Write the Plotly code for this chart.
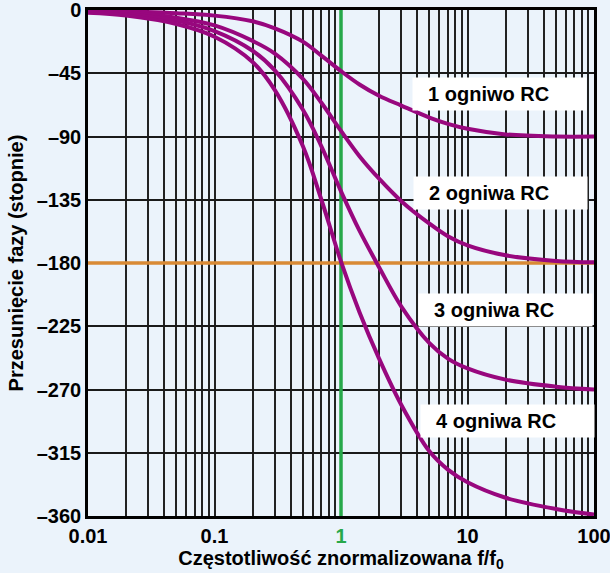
import plotly.graph_objects as go

# ---- data ----
freq = [0.01, 0.02, 0.05, 0.1, 0.2, 0.3, 0.5, 0.7, 1.0, 1.4, 2.0, 3.0, 5.0, 7.0, 10, 20, 50, 100]
phase1 = [-0.5, -1, -2.3, -4, -8, -13, -22.5, -32.5, -43.5, -53, -61, -68, -76.5, -81, -84.5, -88.5, -90, -90]
phase2 = [-1, -2, -5.5, -11, -22, -31, -49, -66, -86, -104, -120, -136, -152, -161, -167.5, -174.5, -178.5, -179.5]
phase3 = [-1.5, -3, -7.5, -15, -29, -43, -71, -97, -129, -157, -183, -211, -237, -248, -255, -263, -268, -270]
phase4 = [-2, -4, -10, -19, -37, -57, -97, -135, -179, -215, -248, -281, -314, -327, -336, -347, -355, -359]

curve_labels = ["1 ogniwo RC", "2 ogniwa RC", "3 ogniwa RC", "4 ogniwa RC"]

ref_phase = -180
ref_freq = 1

y_ticks = [0, -45, -90, -135, -180, -225, -270, -315, -360]
y_ticktext = ["0", "–45", "–90", "–135", "–180", "–225", "–270", "–315", "–360"]
decades = [0.01, 0.1, 1, 10, 100]
decade_text = ["0.01", "0.1", "<span style='color:#27a84a'>1</span>", "10", "100"]

# ---- styles ----
BG = "#ebf3fb"
PURPLE = "#98077e"
ORANGE = "#d98a35"
GREEN = "#27a84a"
FONT = "Liberation Sans, Arial, sans-serif"

x_tickvals, x_ticktext = [], []
for d, t in zip(decades, decade_text):
    x_tickvals.append(d)
    x_ticktext.append(t)
    if d < 100:
        for m in range(2, 10):
            x_tickvals.append(d * m)
            x_ticktext.append("")

fig = go.Figure()

fig.add_trace(go.Scatter(x=[decades[0], decades[-1]], y=[ref_phase, ref_phase], mode="lines",
                         line=dict(color=ORANGE, width=3.5), hoverinfo="skip", showlegend=False))
fig.add_trace(go.Scatter(x=[ref_freq, ref_freq], y=[y_ticks[0], y_ticks[-1]], mode="lines",
                         line=dict(color=GREEN, width=3.5), hoverinfo="skip", showlegend=False))

for py in [phase1, phase2, phase3, phase4]:
    fig.add_trace(go.Scatter(x=freq, y=py, mode="lines",
                             line=dict(color=PURPLE, width=4, shape="spline", smoothing=1.0),
                             showlegend=False))

ann_pos = [(0.640, 0.834), (0.642, 0.638), (0.652, 0.407), (0.656, 0.188)]
for (ax, ay), txt in zip(ann_pos, curve_labels):
    fig.add_annotation(x=ax, y=ay, xref="paper", yref="paper", xanchor="left", yanchor="middle",
                       text="\u00a0\u00a0" + txt, showarrow=False, align="left",
                       width=165, height=24, borderpad=4, bgcolor="white",
                       font=dict(family=FONT, size=20, color="black", weight="bold"))

fig.update_layout(
    width=610, height=573,
    margin=dict(l=88, r=16, t=10, b=57, autoexpand=False),
    paper_bgcolor=BG, plot_bgcolor=BG,
    font=dict(family=FONT, size=20, color="black", weight="bold"),
    showlegend=False,
)
fig.update_xaxes(
    type="log", range=[-2, 2], automargin=False,
    tickvals=x_tickvals, ticktext=x_ticktext, ticks="",
    ticklabeloverflow="allow",
    showgrid=True, gridcolor="#222222", gridwidth=1.7,
    showline=True, linecolor="black", linewidth=2.5, mirror=True,
    zeroline=False,
    tickfont=dict(family=FONT, size=20, color="black", weight="bold"),
    title=dict(text="Częstotliwość znormalizowana f/f<sub>0</sub>", standoff=2,
               font=dict(family=FONT, size=20, color="black", weight="bold")),
)
fig.update_yaxes(
    range=[-360, 0], automargin=False,
    tickvals=y_ticks, ticktext=y_ticktext, ticks="",
    ticklabeloverflow="allow",
    showgrid=True, gridcolor="#1a1a1a", gridwidth=1.7,
    showline=True, linecolor="black", linewidth=2.5, mirror=True,
    zeroline=False,
    tickfont=dict(family=FONT, size=20, color="black", weight="bold"),
    title=dict(text="Przesunięcie fazy (stopnie)", standoff=8,
               font=dict(family=FONT, size=20, color="black", weight="bold")),
)

fig.write_html("out.html")
